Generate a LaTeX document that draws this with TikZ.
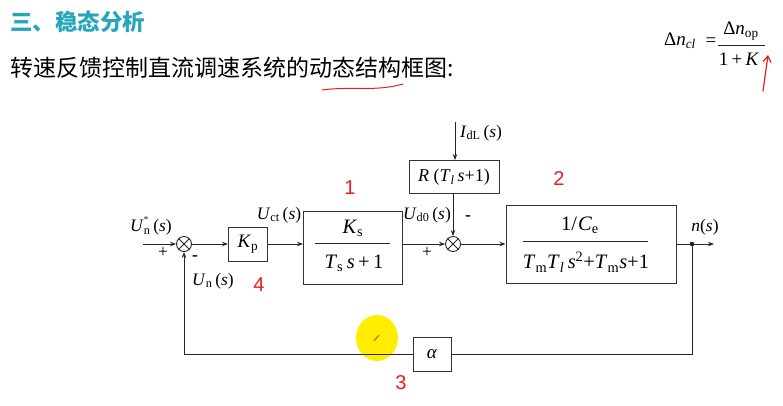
\documentclass[tikz,border=0pt]{standalone}
\usepackage{fontspec}
\setmainfont{Liberation Serif}
\newfontfamily\cjk{Noto Sans CJK SC}
\newfontfamily\handfont{Liberation Sans}
\usetikzlibrary{arrows.meta}
\definecolor{titleteal}{RGB}{38,166,186}
\definecolor{handred}{RGB}{228,30,30}
\definecolor{cursor}{RGB}{255,238,0}
\newcommand{\lsb}[1]{\textsubscript{#1}}
\newcommand{\iv}[1]{\textit{#1}}
\begin{document}
\begin{tikzpicture}[x=1pt,y=-1pt,
  blk/.style={draw=black!80, line width=1pt, inner sep=0pt, font=\fontsize{19}{19}\selectfont},
  sumj/.style={draw=black!85, circle, minimum size=15pt, inner sep=0pt, line width=0.9pt},
  sig/.style={draw=black!85, line width=0.9pt, -{Stealth[length=6pt,width=4.5pt]}},
  wire/.style={draw=black!85, line width=0.9pt},
  lbl/.style={font=\fontsize{17.5}{17.5}\selectfont, inner sep=0pt},
  btxt/.style={font=\fontsize{20.5}{20.5}\selectfont, inner sep=0pt},
  ftxt/.style={font=\fontsize{19}{19}\selectfont, inner sep=0pt},
  frac/.style={line width=0.9pt, draw=black!85},
  hand/.style={text=handred, inner sep=0pt, font=\handfont\fontsize{20}{20}\selectfont},
  handline/.style={draw=handred, line width=1.2pt, line cap=round}
]
\useasboundingbox (0,0) rectangle (783,405);

% headings
\node[anchor=west, inner sep=0pt, text=titleteal, font=\cjk\bfseries\fontsize{22.5}{22.5}\selectfont] (title) at (10,22) {三、稳态分析};
\node[anchor=west, inner sep=0pt, font=\cjk\fontsize{23}{23}\selectfont] (sub) at (10,68) {转速反馈控制直流调速系统的动态结构框图:};
\draw[handline, line width=1pt] (322,90) .. controls (350,86) and (375,92) .. (403,84);

% formula
\node[ftxt] (dcl) at (680,41) {Δ\iv{n}\lsb{\iv{cl}}};
\node[ftxt] (eq) at (711,42) {=};
\node[ftxt] (dop) at (741,31) {Δ\iv{n}\lsb{op}};
\node[ftxt] (onek) at (739,59) {1\,+\,\iv{K}};
\draw[frac] (718,45) -- (765,45);
\coordinate (arrfoot) at (763,91);
\draw[handline, -{Straight Barb[length=6pt,width=8pt]}] (arrfoot) -- (768,55);

% cursor highlight
\fill[cursor] (377,338) ellipse [x radius=21, y radius=23];
\draw[handred, line width=0.8pt] (374,341) -- (379,335);

% summing junctions
\node[sumj] (s1) at (184,244) {};
\draw[wire] (s1.north west) -- (s1.south east) (s1.north east) -- (s1.south west);
\node[sumj] (s2) at (453,244) {};
\draw[wire] (s2.north west) -- (s2.south east) (s2.north east) -- (s2.south west);

% blocks
\node[blk, minimum width=39pt, minimum height=34pt] (kp) at (248,244) {\iv{K}\lsb{p}};
\node[blk, minimum width=99pt, minimum height=73pt] (ks) at (353,248) {};
\node[btxt] (ksn) at (353,228) {\iv{K}\lsb{s}};
\node[btxt] (ksd) at (354,263) {\iv{T}\lsb{s}\,\iv{s}\,+\,1};
\draw[frac] (315,243) -- (390,243);

\node[blk, font=\fontsize{18}{18}\selectfont, minimum width=90pt, minimum height=33pt] (r) at (454,177) {\iv{R} (\iv{T}\lsb{\iv{l}}\,\iv{s}+1)};

\node[blk, minimum width=170pt, minimum height=78pt] (pl) at (591,244) {};
\node[btxt] (pln) at (580,225) {1/\kern1pt\iv{C}\lsb{e}};
\node[btxt] (pld) at (586,262) {\iv{T}\lsb{m}\iv{T}\lsb{\iv{l}}\,\iv{s}\textsuperscript{2}+\iv{T}\lsb{m}\iv{s}+1};
\draw[frac] (523,241) -- (648,241);

\node[blk, minimum width=38pt, minimum height=34pt] (al) at (432,354) {\iv{α}};

% labels
\node[lbl] (lun) at (151,226) {\iv{U}\makebox[0pt][l]{\raisebox{0.55em}{\fontsize{9}{9}\selectfont *}}\lsb{n}\,(\iv{s})};
\node[lbl] (lunf) at (213,281) {\iv{U}\lsb{n}\,(\iv{s})};
\node[lbl] (luct) at (279,215) {\iv{U}\lsb{ct}\,(\iv{s})};
\node[lbl] (lud) at (427,215) {\iv{U}\lsb{d0}\,(\iv{s})};
\node[lbl] (lidl) at (481,133) {\iv{I}\lsb{dL}\,(\iv{s})};
\node[lbl] (lns) at (705,227) {\iv{n}(\iv{s})};
\node[lbl] (p1) at (163,253) {+};
\node[lbl, font=\bfseries\fontsize{17.5}{17.5}\selectfont] (m1) at (195,258) {-};
\node[lbl] (p2) at (427,253) {+};
\node[lbl, font=\bfseries\fontsize{17.5}{17.5}\selectfont] (m2) at (468,218) {-};

% red annotations
\node[hand] (h1) at (350,188) {1};
\node[hand] (h2) at (559,179) {2};
\node[hand] (h3) at (401,383) {3};
\node[hand] (h4) at (259,285) {4};

% connectors
\coordinate (in) at (143,244);
\coordinate (out) at (714,244);
\coordinate (tap) at (692,244);
\coordinate (idl) at (455,122);
\draw[sig] (in) -- (s1.west);
\draw[sig] (s1.east) -- (kp.west);
\draw[sig] (kp.east) -- (kp.east -| ks.west);
\draw[sig] (s2 -| ks.east) -- (s2.west);
\draw[sig] (s2.east) -- (s2 -| pl.west);
\draw[sig] (pl.east) -- (out);
\fill[black!85] (tap) circle (2.3pt);
\draw[wire] (tap) |- (al.east);
\draw[sig] (al.west) -| (s1.south);
\draw[sig] (idl) -- (idl |- r.north);
\draw[sig] (s2 |- r.south) -- (s2.north);
\end{tikzpicture}
\end{document}
